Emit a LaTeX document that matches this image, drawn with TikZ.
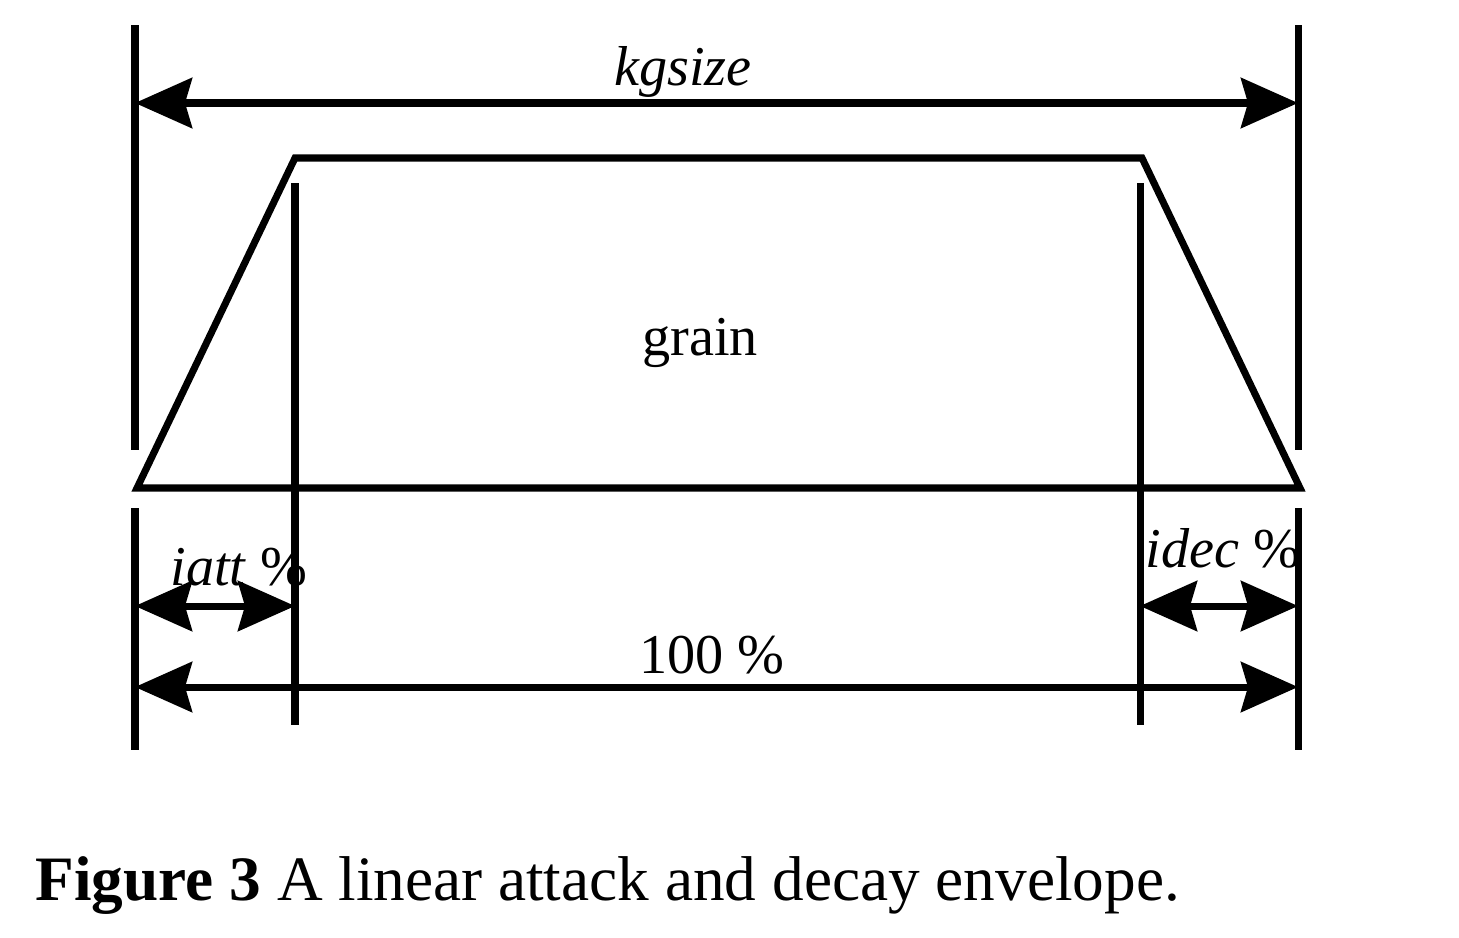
\documentclass[tikz,border=0pt]{standalone}
\usepackage{fontspec}
\setmainfont{Liberation Serif}
\usetikzlibrary{arrows.meta, calc, positioning}

\begin{document}
\begin{tikzpicture}[
  bar/.style={line width=2pt},
  dim/.style={line width=2pt, {Stealth[length=0.57cm, width=0.5cm, inset=0.07cm]}-{Stealth[length=0.57cm, width=0.5cm, inset=0.07cm]}},
  lbl/.style={font=\fontsize{16pt}{19pt}\selectfont, inner sep=0pt, anchor=base}
]
\useasboundingbox (0,0) rectangle (14.59,9.37);
\coordinate (lt1) at (1.35,9.12);
\coordinate (lt2) at (1.35,4.87);
\coordinate (rt1) at (12.98,9.12);
\coordinate (rt2) at (12.98,4.87);
\coordinate (lb1) at (1.35,4.29);
\coordinate (lb2) at (1.35,1.87);
\coordinate (rb1) at (12.98,4.29);
\coordinate (rb2) at (12.98,1.87);
\coordinate (a1) at (2.95,7.54);
\coordinate (a2) at (2.95,2.12);
\coordinate (d1) at (11.40,7.54);
\coordinate (d2) at (11.40,2.12);
\coordinate (e1) at (1.37,4.49);
\coordinate (e2) at (2.95,7.79);
\coordinate (e3) at (11.42,7.79);
\coordinate (e4) at (13.00,4.49);
\draw[bar] (lt1) -- (lt2);
\draw[bar] (rt1) -- (rt2);
\draw[bar] (lb1) -- (lb2);
\draw[bar] (rb1) -- (rb2);
\draw[bar] (a1) -- (a2);
\draw[bar] (d1) -- (d2);
\draw[bar, line join=miter] (e1) -- (e2) -- (e3) -- (e4) -- cycle;
\draw[dim] (lt1 |- 0,8.34) -- (rt1 |- 0,8.34);
\draw[dim] (lb1 |- 0,3.31) -- (a1 |- 0,3.31);
\draw[dim] (d1 |- 0,3.31) -- (rb1 |- 0,3.31);
\draw[dim] (lb1 |- 0,2.50) -- (rb1 |- 0,2.50);
\node[lbl] (kgsize) at (6.83,8.52) {\itshape kgsize};
\node[lbl] (grain) at (7.00,5.82) {grain};
\node[lbl] (iatt) at (2.39,3.52) {\itshape iatt\/\upshape\ \%};
\node[lbl] (idec) at (12.23,3.70) {\itshape idec\/\upshape\ \%};
\node[lbl] (full) at (7.12,2.64) {100 \%};
\node[lbl, anchor=base west, font=\fontsize{18pt}{21pt}\selectfont] (caption) at (0.35,0.37) {\textbf{Figure 3} A linear attack and decay envelope.};
\end{tikzpicture}
\end{document}
